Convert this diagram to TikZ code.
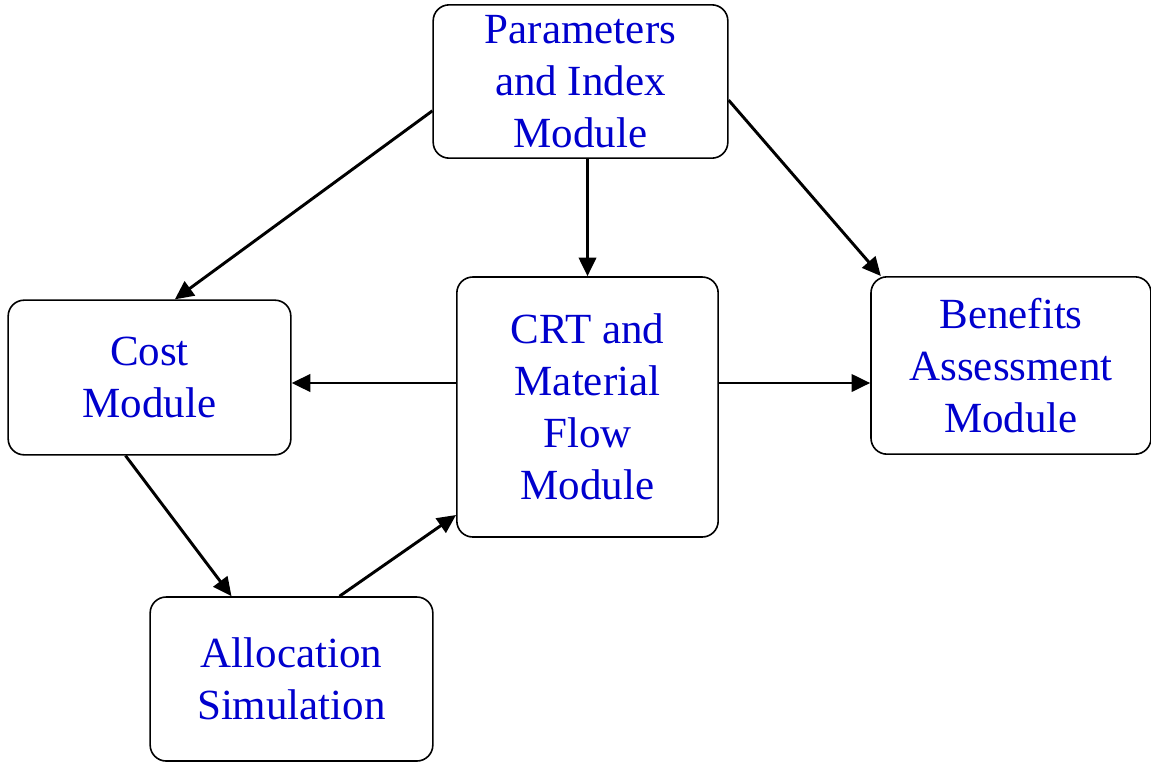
\documentclass[tikz,border=0pt]{standalone}
\usepackage{fontspec}
\setmainfont{Liberation Serif}
\usetikzlibrary{arrows.meta,calc}
\definecolor{modblue}{RGB}{0,0,205}
\tikzstyle{module}=[draw, line width=1.2pt, rounded corners=12pt, text=modblue, align=center, font=\fontsize{32.25}{39}\selectfont]
\tikzstyle{arrow}=[draw, line width=2.2pt, -{Triangle[length=14pt,width=13pt]}]

\begin{document}
\begin{tikzpicture}[x=0.75pt,y=-0.75pt]
\useasboundingbox (0,0) rectangle (1151,761);

\node (params) [module, minimum width=221pt, minimum height=115pt] at (580.5,81.5) {Parameters\\and Index\\Module};
\node (cost) [module, minimum width=212pt, minimum height=116pt] at (149.5,377.5) {Cost\\Module};
\node (crt) [module, minimum width=196pt, minimum height=195pt] at (587.5,407) {CRT and\\Material\\Flow\\Module};
\node (benefits) [module, minimum width=210pt, minimum height=133pt] at (1011,365.5) {Benefits\\Assessment\\Module};
\node (alloc) [module, minimum width=212pt, minimum height=123pt] at (291.5,679) {Allocation\\Simulation};

\draw [arrow] ([yshift=-22pt]params.west) -- ([xshift=19pt]cost.north);
\draw [arrow] (params.south -| crt.north) -- (crt.north);
\draw [arrow] ([yshift=-14pt]params.east) -- ([xshift=8pt]benefits.north west);
\draw [arrow] ([yshift=18pt]crt.west) -- ([yshift=18pt]crt.west -| cost.east);
\draw [arrow] ([yshift=18pt]crt.east) -- ([yshift=18pt]crt.east -| benefits.west);
\draw [arrow] ([xshift=-18pt]cost.south) -- ([xshift=-45pt]alloc.north);
\draw [arrow] ([xshift=36pt]alloc.north) -- ([yshift=-81pt]crt.west);

\end{tikzpicture}
\end{document}
